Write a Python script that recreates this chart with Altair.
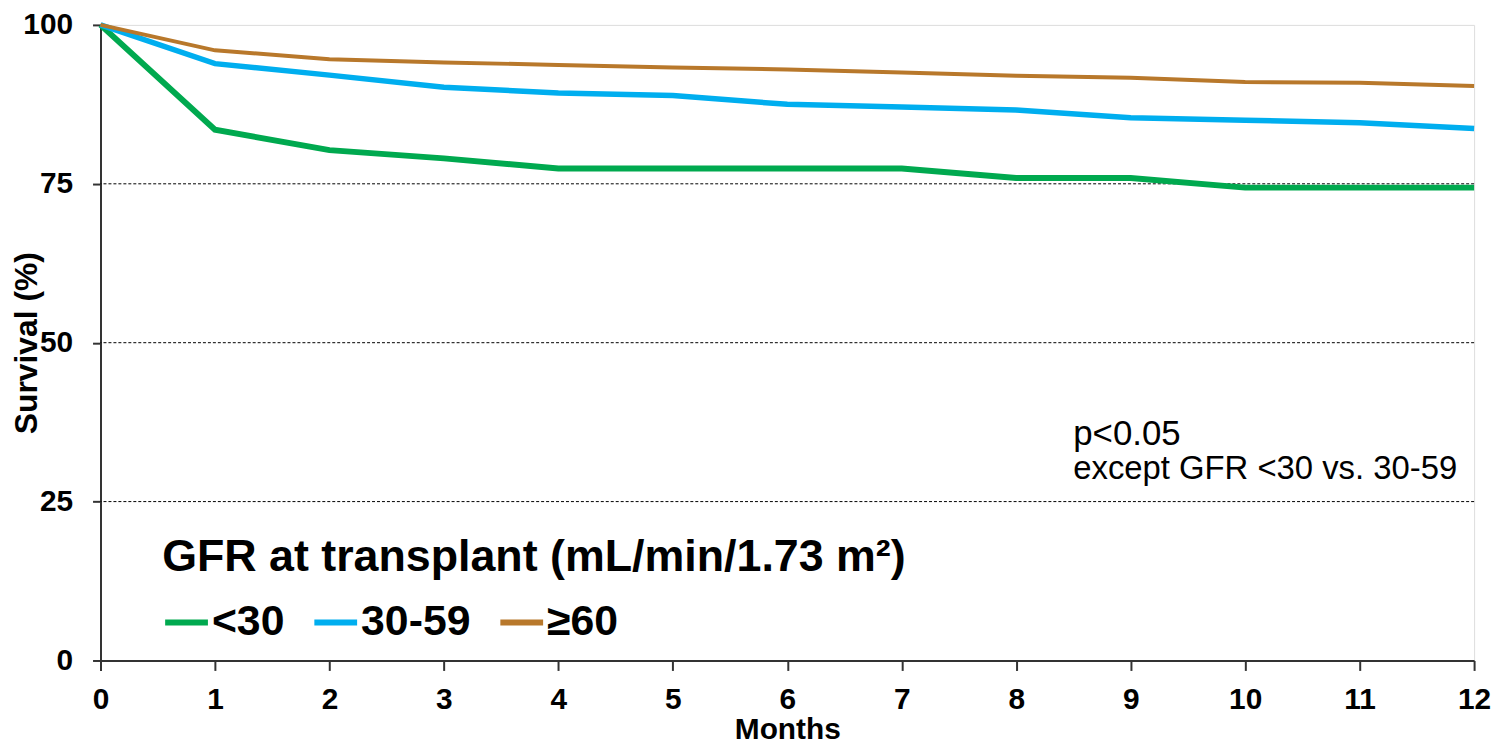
import altair as alt
import pandas as pd

months = list(range(13))
groups = ["<30", "30-59", "≥60"]
surv_lt30 = [100, 83.5, 80.3, 79.0, 77.4, 77.4, 77.4, 77.4, 75.9, 75.9, 74.4, 74.4, 74.4]
surv_30_59 = [100, 93.9, 92.1, 90.2, 89.3, 88.9, 87.5, 87.1, 86.6, 85.4, 85.0, 84.6, 83.7]
surv_ge60 = [100, 96.0, 94.6, 94.1, 93.7, 93.3, 93.0, 92.5, 92.0, 91.7, 91.0, 90.9, 90.4]
colors = ["#00A94F", "#00AEEF", "#B8782B"]
widths = [6, 5.5, 4]
y_ticks = [0, 25, 50, 75, 100]
grid_vals = [25, 50, 75]
notes = ["p<0.05", "except GFR <30 vs. 30-59"]

rows = []
for g, vals, w in zip(groups, [surv_lt30, surv_30_59, surv_ge60], widths):
    for m, v in zip(months, vals):
        rows.append({"month": m, "survival": v, "group": g, "w": w})
df = pd.DataFrame(rows)

FONT = "Liberation Sans"
W, H = 1381, 639

x_enc = alt.X("month:Q", scale=alt.Scale(domain=[0, 12], nice=False),
              axis=alt.Axis(values=months, title="Months", grid=False, tickSize=10,
                            labelFontSize=30, labelFontWeight="bold", titleFontSize=30,
                            titleFontWeight="bold", labelPadding=14, titlePadding=0,
                            domainColor="#333", domainWidth=2, tickColor="#333", tickWidth=2,
                            labelColor="black", titleColor="black", labelFlush=False))
y_enc = alt.Y("survival:Q", scale=alt.Scale(domain=[0, 100], nice=False),
              axis=alt.Axis(values=y_ticks, title="Survival (%)", grid=False,
                            tickSize=8, labelFontSize=30, labelFontWeight="bold",
                            titleFontSize=32, titleFontWeight="bold", labelPadding=20,
                            titleX=-64, titleY=H / 2, titleAngle=270, titleAlign="center",
                            titleBaseline="alphabetic",
                            domainColor="#333", domainWidth=2, labelFlush=False,
                            tickColor="#333", tickWidth=2, labelColor="black", titleColor="black"))

grid = alt.Chart(pd.DataFrame({"g": grid_vals})).mark_rule(
    color="black", strokeWidth=1, strokeDash=[3, 2]
).encode(y=alt.Y("g:Q", scale=alt.Scale(domain=[0, 100], nice=False)))

lines = alt.Chart(df).mark_line(strokeCap="butt").encode(
    x=x_enc,
    y=y_enc,
    color=alt.Color("group:N", scale=alt.Scale(domain=groups, range=colors),
                    sort=groups,
                    legend=alt.Legend(title="GFR at transplant (mL/min/1.73 m²)",
                                      orient="none", legendX=62, legendY=513,
                                      direction="horizontal", columns=3,
                                      symbolType="stroke", symbolSize=1849,
                                      symbolStrokeWidth=6, titleFontSize=45,
                                      labelFontSize=43, titleFontWeight="bold",
                                      labelFontWeight="bold", titleColor="black",
                                      labelColor="black", columnPadding=18,
                                      labelOffset=1, titlePadding=18,
                                      titleLimit=1200, labelLimit=400)),
    strokeWidth=alt.StrokeWidth("w:Q", scale=None, legend=None),
    detail="group:N",
)

ann1 = alt.Chart(pd.DataFrame({"t": [notes[0]]})).mark_text(
    align="left", baseline="middle", fontSize=35, font=FONT, color="black"
).encode(x=alt.value(978), y=alt.value(411), text="t:N")
ann2 = alt.Chart(pd.DataFrame({"t": [notes[1]]})).mark_text(
    align="left", baseline="middle", fontSize=33, font=FONT, color="black"
).encode(x=alt.value(978), y=alt.value(447), text="t:N")

chart = alt.layer(grid, lines, ann1, ann2).properties(
    width=W, height=H, autosize=alt.AutoSizeParams(type="none"),
    padding={"left": 93, "top": 15, "right": 18, "bottom": 86}
).configure_view(stroke="#333", strokeWidth=2).configure(font=FONT)

chart.save("out.html", embed_options={"renderer": "svg", "actions": False})
